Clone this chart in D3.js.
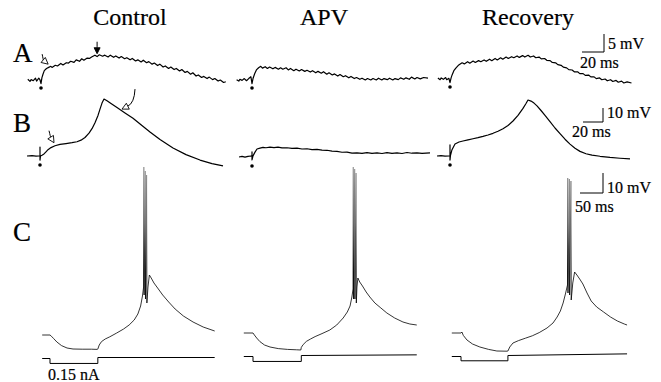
<!DOCTYPE html>
<html>
<head>
<meta charset="utf-8">
<script src="https://cdn.jsdelivr.net/npm/d3@7/dist/d3.min.js"></script>
<style>
  body { margin: 0; background: #fff; }
  svg { display: block; }
</style>
</head>
<body>
<svg id="fig" width="661" height="382"></svg>
<script>
const conditions = ["Control", "APV", "Recovery"];
const rowLetters = ["A", "B", "C"];

// A: synaptic potential, [ms from stimulus, mV from rest]
const aControl = [[-12,0.2],[-10,-0.4],[-9,0.1],[-7,-0.2],[-5,0.5],[-4,-0.3],[-2,0.5],[-1,0.1],[0,-1.0],[0.8,0.6],[1.8,1.6],[3,2.6],[5,3.2],[7,3.5],[9,3.8],[10,3.5],[13,4.1],[15,3.9],[18,4.6],[20,4.2],[23,4.8],[25,4.7],[27,5.2],[30,4.9],[32,5.6],[35,5.2],[37,5.9],[39,5.5],[42,6.1],[44,6.0],[46,6.4],[49,6.9],[51,6.5],[53,7.0],[56,6.6],[58,6.9],[61,6.4],[63,6.9],[66,6.3],[68,6.7],[71,6.1],[73,6.5],[76,5.9],[78,6.2],[81,5.6],[83,6.0],[86,5.3],[88,5.6],[91,5.0],[93,5.5],[96,4.8],[98,5.1],[101,4.4],[103,4.7],[106,4.0],[108,4.4],[111,3.6],[113,3.9],[116,3.2],[118,3.6],[121,2.9],[123,3.2],[126,2.5],[128,2.9],[131,2.1],[133,2.4],[136,1.6],[138,2.0],[141,1.1],[143,1.4],[146,0.7],[148,1.0],[151,0.4],[153,0.8],[156,0.1],[158,0.4],[161,-0.3],[163,0.0],[166,-0.7],[168,-0.5]];
const aApv = [[-14,0.1],[-12,-0.3],[-11,0.2],[-9,-0.1],[-7,0.4],[-5,-0.2],[-3,0.4],[-1,0.9],[0,-1.0],[1,0.5],[2.5,1.8],[4,2.8],[6,3.4],[8,3.8],[9.5,3.3],[12,3.7],[14,3.2],[16,3.6],[19,3.1],[21,3.5],[24,3.0],[26,3.4],[28,3.0],[31,3.4],[33,2.8],[35,3.2],[38,2.6],[40,3.0],[43,2.5],[45,2.9],[48,2.4],[50,2.7],[53,2.2],[55,2.6],[58,2.0],[60,2.4],[63,1.9],[65,2.3],[68,1.6],[70,2.0],[73,1.4],[75,1.7],[78,1.1],[80,1.5],[83,0.9],[85,1.2],[88,0.6],[90,1.0],[93,0.4],[95,0.7],[98,0.2],[100,0.5],[103,0.0],[105,0.4],[108,0.0],[110,0.4],[113,0.0],[115,0.5],[118,0.0],[120,0.4],[123,0.1],[125,0.5],[128,0.0],[130,0.4],[133,0.1],[135,0.6],[138,0.2],[140,0.6],[143,0.2],[145,0.8],[148,0.3],[150,0.7],[153,0.3],[156,0.7],[160,0.5]];
const aRecovery = [[-11,0.3],[-9,-0.2],[-8,0.3],[-6,-0.1],[-4,0.4],[-3,-0.2],[-1,0.2],[0,-1.0],[1,0.3],[2,1.2],[3.5,2.3],[5.5,3.1],[8,3.9],[11,4.5],[13,4.2],[16,4.8],[18,4.4],[21,5.0],[23,4.6],[26,5.1],[28,4.8],[31,5.3],[33,4.9],[36,5.5],[38,5.1],[41,5.7],[43,5.3],[46,5.9],[48,5.5],[51,6.1],[53,5.7],[56,6.2],[58,5.9],[61,6.4],[63,6.0],[66,6.5],[68,6.1],[71,6.6],[73,6.1],[76,6.4],[78,5.9],[81,6.1],[83,5.6],[86,5.7],[88,5.2],[91,5.1],[93,4.6],[96,4.5],[98,4.0],[101,3.8],[103,3.3],[106,3.1],[108,2.6],[111,2.5],[113,2.0],[116,2.0],[118,1.5],[121,1.5],[123,1.0],[126,1.1],[128,0.6],[131,0.6],[133,0.1],[136,0.3],[138,-0.2],[141,0.0],[143,-0.5],[146,-0.2],[148,-0.7],[151,-0.4],[153,-0.9],[156,-0.6],[158,-1.1],[161,-0.8],[165,-1.1]];

// B: response to stronger stimulus, [ms, mV]
const bControl = [[-13,0],[-8,0.3],[-4,-0.1],[-1,0],[0,0],[0,6.4],[0,-2.9],[0.5,0],[2,0.6],[4,1.5],[6,3.0],[8,4.5],[11,6.0],[15,7.3],[20,8.3],[26,8.9],[32,9.5],[37,10.2],[41,11.3],[45,13.2],[49,16.3],[52,19.5],[55,23.8],[58,29.0],[60,33.5],[62,37.8],[64,40.7],[67,39.5],[71,37.5],[77,34.6],[85,30.8],[93,27.0],[101,22.3],[110,17.1],[120,11.8],[133,5.7],[146,1.0],[160,-2.9],[172,-5.4],[183,-7.1]];
const bApv = [[-13,0],[-10,0.4],[-7,-0.1],[-4,0.5],[-1,0.7],[0,0.5],[0,3.6],[0,-2.1],[1,0.8],[3,3.5],[5,5.7],[8,6.3],[11,6.9],[14,6.6],[18,7.1],[22,6.7],[26,7.0],[30,6.5],[35,6.6],[40,6.1],[45,6.3],[50,5.7],[55,5.9],[60,5.3],[65,5.5],[70,4.9],[75,4.8],[80,4.2],[85,4.0],[90,3.4],[95,3.5],[100,2.8],[105,3.0],[110,2.6],[115,3.1],[120,2.6],[125,2.9],[130,2.5],[135,3.1],[140,2.6],[145,3.0],[150,2.5],[155,3.2],[160,2.7],[165,3.0],[170,2.6],[178,3.0]];
const bRecovery = [[-13,0],[-9,0.3],[-5,-0.1],[-1,0],[0,0],[0,7.9],[0,-2.9],[0.5,0.5],[2,4.5],[5,8.6],[9,10.0],[13,10.7],[18,11.5],[23,12.3],[28,13.1],[33,14.0],[38,15.0],[43,16.2],[48,17.7],[53,19.5],[58,21.8],[63,25.0],[68,29.0],[73,34.0],[76,37.5],[78,40.0],[81,39.2],[84,37.8],[87,35.8],[91,32.5],[95,29.0],[100,24.5],[105,20.0],[110,16.0],[115,12.0],[120,8.5],[125,5.5],[130,3.3],[136,1.6],[142,0.6],[150,-0.2],[160,-1.0],[170,-1.6],[180,-2.1]];

// C: rebound burst after hyperpolarizing step, [ms from step onset, mV]
const cControl = [[-17,0],[0,0],[3,-0.6],[8,-1.8],[15,-3.5],[25,-5.3],[37,-6.5],[50,-7.0],[70,-7.1],[90,-7.1],[103,-7.2],[104,-7.0],[107,-5.0],[112,-3.3],[120,-2.0],[130,-0.9],[145,1.0],[160,3.0],[172,5.0],[183,7.5],[191,10.5],[197,14.5],[201,19.5],[203.5,24],[204,84],[204.6,20],[207,82],[207.6,18],[210,80],[210.6,16],[213,24],[216,30],[220,28.5],[226,26],[234,23.5],[245,20],[258,16.5],[272,13],[290,9.5],[311,6.5],[333,4],[358,2]];
const cApv = [[-20,0],[0,0],[3,-1.0],[8,-2.5],[15,-4.3],[25,-6.0],[37,-7.0],[55,-7.8],[75,-8.2],[95,-8.4],[104,-8.5],[105,-7.2],[109,-5.8],[116,-4.2],[125,-3.0],[135,-1.8],[150,-0.3],[167,1.5],[182,4.0],[196,7.5],[205,10.5],[211,13.5],[215,18],[217.5,22],[218,83],[218.6,17],[221,82],[221.6,17],[224,80],[224.6,15],[226,23],[228,27.5],[232,25.5],[238,23.5],[246,20.5],[254,18],[265,15],[278,12.5],[291,10],[308,7.5],[326,5.5],[341,4.5],[356,4]];
const cRecovery = [[-20,0],[0,0],[2,0.5],[5,-1.2],[13,-3.5],[25,-5.5],[41,-7.0],[60,-8.2],[78,-9.0],[100,-9.1],[102,-9.0],[106,-7.0],[113,-5.0],[125,-3.8],[140,-2.6],[155,-1.4],[170,0.2],[187,2.5],[200,5.0],[209,8.0],[216,11.0],[222,15.0],[227,19.5],[231.5,24],[232,77.5],[232.6,20],[235.5,77],[236.1,19],[239,76],[239.6,16.5],[243,25],[247,30.5],[252,29],[258,27],[265,24.5],[274,20],[283,16],[295,13],[310,10.5],[325,8],[340,6],[355,4.5],[361,4]];

// injected current, [ms, nA]
const iControl = [[-17,0],[0,0],[0,-0.15],[104,-0.15],[104,0.03],[358,0.03]];
const iApv = [[-20,0],[0,0],[0,-0.15],[105,-0.15],[105,0.03],[356,0.05]];
const iRecovery = [[-20,0],[0,0],[0,-0.13],[102,-0.13],[102,0.03],[361,0.08]];

// arrows on the control traces: [row, t (ms), v (mV), dx, dy, bend, filled]
const arrowNotes = [
  [0, 51, 7.3, 0, -12, 0, true],
  [0, 6.5, 4.4, -6, -10, 2, false],
  [1, 14, 9.5, -5, -12, 1, false],
  [1, 82, 33.5, 13, -20, -7, false]
];

const rows = [
  { traces: [aControl, aApv, aRecovery], msPx: 1.1, mvPx: 3.6, x0: [41, 252, 450], y0: [80, 80, 79],
    letterY: 62, dotDy: 8, barMs: 20, barMv: 5, barX: 604, barY: 52, mvLab: [608, 49], msLab: [580, 68] },
  { traces: [bControl, bApv, bRecovery], msPx: 1.0, mvPx: 1.4, x0: [40, 252, 450], y0: [156, 157, 156],
    letterY: 132, dotDy: 9, barMs: 20, barMv: 10, barX: 603, barY: 122, mvLab: [607, 118], msLab: [572, 137] },
  { traces: [cControl, cApv, cRecovery], msPx: 0.46, mvPx: 2.0, x0: [50, 253, 461], y0: [335, 333, 333],
    letterY: 241, dotDy: null, barMs: 50, barMv: 10, barX: 603, barY: 193, mvLab: [607, 193], msLab: [575, 212] }
];
const currents = [iControl, iApv, iRecovery];
const titleX = [130, 324, 528];
const serif = "Liberation Serif, Tinos, Times New Roman, DejaVu Serif, serif";

const svg = d3.select("#fig");

// spike tops print faintly: fade the stroke towards the top of row C
const grad = svg.append("defs").append("linearGradient")
  .attr("id", "spikeFade").attr("gradientUnits", "userSpaceOnUse")
  .attr("x1", 0).attr("x2", 0).attr("y1", 160).attr("y2", 300);
grad.append("stop").attr("offset", 0).attr("stop-color", "#9a9a9a");
grad.append("stop").attr("offset", 0.45).attr("stop-color", "#555");
grad.append("stop").attr("offset", 0.8).attr("stop-color", "#000");

function label(x, y, size, str) {
  return svg.append("text")
    .attr("x", x).attr("y", y)
    .attr("font-family", serif)
    .attr("font-size", size)
    .attr("fill", "#000")
    .attr("stroke", "#000").attr("stroke-width", 0.2)
    .text(str);
}

// column titles and row letters
conditions.forEach((d, i) => label(titleX[i], 25, 24, d).attr("text-anchor", "middle"));
rowLetters.forEach((d, i) => label(13, rows[i].letterY, 27, d));

function scalesFor(row, c) {
  const x = d3.scaleLinear().domain([0, 1]).range([row.x0[c], row.x0[c] + row.msPx]);
  const y = d3.scaleLinear().domain([0, 1]).range([row.y0[c], row.y0[c] - row.mvPx]);
  return { x, y };
}

rows.forEach((row, r) => {
  const g = svg.append("g");
  row.traces.forEach((trace, c) => {
    const s = scalesFor(row, c);
    const line = d3.line().x(d => s.x(d[0])).y(d => s.y(d[1]));
    g.append("path")
      .attr("d", line(trace))
      .attr("fill", "none")
      .attr("stroke", r === 2 ? "url(#spikeFade)" : "#000")
      .attr("stroke-width", r === 2 ? 0.8 : 1.2)
      .attr("stroke-linejoin", "round");

    if (row.dotDy !== null) {
      g.append("circle")
        .attr("cx", s.x(0)).attr("cy", s.y(0) + row.dotDy)
        .attr("r", 1.8).attr("fill", "#000");
    }

    if (r === 2) {
      const iy = d3.scaleLinear().domain([0, 1]).range([row.y0[c] + 23.5, row.y0[c] + 23.5 - 33]);
      const iline = d3.line().x(d => s.x(d[0])).y(d => iy(d[1]));
      g.append("path")
        .attr("d", iline(currents[c]))
        .attr("fill", "none").attr("stroke", "#000").attr("stroke-width", 1);
    }
  });

  // scale bar
  const bw = row.barMs * row.msPx, bh = row.barMv * row.mvPx;
  g.append("path")
    .attr("d", `M${row.barX - bw},${row.barY}H${row.barX}V${row.barY - bh}`)
    .attr("fill", "none").attr("stroke", "#000").attr("stroke-width", 1);
  label(row.mvLab[0], row.mvLab[1], 16, `${row.barMv} mV`);
  label(row.msLab[0], row.msLab[1], 16, `${row.barMs} ms`);
});

// current step label
label(rows[2].x0[0] - 2, 380, 16, "0.15 nA");

// arrows
arrowNotes.forEach(([r, t, v, dx, dy, bend, filled]) => {
  const s = scalesFor(rows[r], 0);
  const tx = s.x(t), ty = s.y(v);
  const fx = tx + dx, fy = ty + dy;
  const len = Math.hypot(dx, dy);
  const nx = dy / len, ny = -dx / len;
  const cx = (tx + fx) / 2 + nx * bend, cy = (ty + fy) / 2 + ny * bend;
  const ul = Math.hypot(tx - cx, ty - cy);
  const ux = (tx - cx) / ul, uy = (ty - cy) / ul;
  const h = filled ? 6 : 6.5, w = filled ? 3 : 3.3;
  const bx = tx - ux * h, by = ty - uy * h;
  svg.append("path")
    .attr("d", `M${fx},${fy}Q${cx},${cy} ${bx},${by}`)
    .attr("fill", "none").attr("stroke", "#000").attr("stroke-width", 1);
  svg.append("path")
    .attr("d", `M${tx},${ty}L${bx - uy * w},${by + ux * w}L${bx + uy * w},${by - ux * w}Z`)
    .attr("fill", filled ? "#000" : "#fff")
    .attr("stroke", "#000").attr("stroke-width", 0.9);
});
</script>
</body>
</html>
